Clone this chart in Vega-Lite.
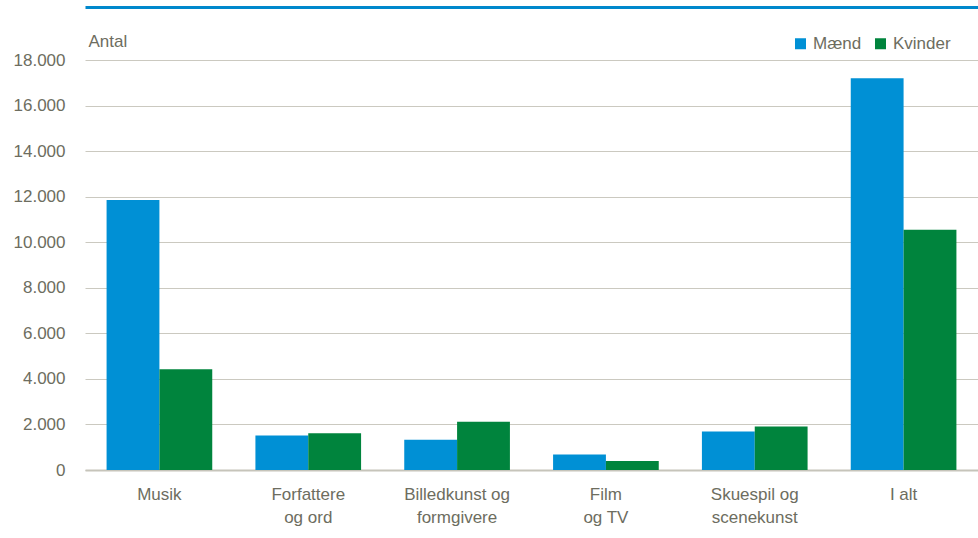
{
  "$schema": "https://vega.github.io/schema/vega-lite/v6.json",
  "width": 893,
  "height": 410,
  "autosize": {"type": "none"},
  "padding": {"left": 85, "top": 60, "right": 0, "bottom": 68},
  "background": "white",
  "data": {
    "values": [
      {"kategori": "Musik", "køn": "Mænd", "antal": 11850},
      {"kategori": "Musik", "køn": "Kvinder", "antal": 4420},
      {"kategori": "Forfattere og ord", "køn": "Mænd", "antal": 1520},
      {"kategori": "Forfattere og ord", "køn": "Kvinder", "antal": 1610},
      {"kategori": "Billedkunst og formgivere", "køn": "Mænd", "antal": 1330},
      {"kategori": "Billedkunst og formgivere", "køn": "Kvinder", "antal": 2120},
      {"kategori": "Film og TV", "køn": "Mænd", "antal": 680},
      {"kategori": "Film og TV", "køn": "Kvinder", "antal": 400},
      {"kategori": "Skuespil og scenekunst", "køn": "Mænd", "antal": 1690},
      {"kategori": "Skuespil og scenekunst", "køn": "Kvinder", "antal": 1910},
      {"kategori": "I alt", "køn": "Mænd", "antal": 17200},
      {"kategori": "I alt", "køn": "Kvinder", "antal": 10550}
    ]
  },
  "encoding": {
    "y": {
      "field": "antal",
      "type": "quantitative",
      "scale": {"domain": [0, 18000], "nice": false},
      "axis": {
        "values": [0, 2000, 4000, 6000, 8000, 10000, 12000, 14000, 16000, 18000],
        "labelExpr": "replace(format(datum.value, ','), ',', '.')",
        "domain": false,
        "ticks": false,
        "grid": true,
        "gridColor": "#cbc9c0",
        "gridWidth": 1,
        "labelFont": "Liberation Sans",
        "labelFontSize": 17,
        "labelColor": "#6d6d60",
        "labelPadding": 20,
        "title": "Antal",
        "titleAngle": 0,
        "titleAlign": "left",
        "titleBaseline": "middle",
        "titleX": 3,
        "titleY": -19,
        "titleFont": "Liberation Sans",
        "titleFontSize": 17,
        "titleFontWeight": "normal",
        "titleColor": "#6d6d60"
      }
    }
  },
  "layer": [
    {
      "mark": {"type": "bar"},
      "encoding": {
        "x": {
          "field": "kategori",
          "type": "nominal",
          "sort": null,
          "scale": {"paddingInner": 0.29, "paddingOuter": 0.145},
          "axis": {
            "orient": "bottom",
            "title": null,
            "labelAngle": 0,
            "ticks": false,
            "domain": true,
            "domainColor": "#c6c4ba",
            "domainWidth": 2,
            "labelFont": "Liberation Sans",
            "labelFontSize": 17,
            "labelColor": "#6d6d60",
            "labelPadding": 16,
            "labelBaseline": "top",
            "labelLineHeight": 23,
            "labelExpr": "datum.label == 'Forfattere og ord' ? ['Forfattere', 'og ord'] : datum.label == 'Billedkunst og formgivere' ? ['Billedkunst og', 'formgivere'] : datum.label == 'Film og TV' ? ['Film', 'og TV'] : datum.label == 'Skuespil og scenekunst' ? ['Skuespil og', 'scenekunst'] : datum.label"
          }
        },
        "xOffset": {"field": "køn", "type": "nominal", "sort": ["Mænd", "Kvinder"], "scale": {"paddingInner": 0, "paddingOuter": 0}},
        "color": {
          "field": "køn",
          "type": "nominal",
          "sort": ["Mænd", "Kvinder"],
          "scale": {"domain": ["Mænd", "Kvinder"], "range": ["#0090d5", "#00843d"]},
          "legend": {
            "title": null,
            "orient": "none",
            "direction": "horizontal",
            "legendX": 707,
            "legendY": -25,
            "padding": 0,
            "symbolType": "square",
            "symbolSize": 121,
            "symbolStrokeWidth": 0,
            "labelFont": "Liberation Sans",
            "labelFontSize": 17,
            "labelColor": "#6d6d60",
            "labelOffset": 4,
            "columnPadding": 10
          }
        }
      }
    },
    {
      "mark": {"type": "bar", "opacity": 0},
      "encoding": {
        "x": {
          "field": "kategori",
          "type": "nominal",
          "sort": null,
          "axis": {
            "orient": "top",
            "title": null,
            "labels": false,
            "ticks": false,
            "grid": false,
            "domain": true,
            "domainColor": "#0088cc",
            "domainWidth": 3,
            "offset": 53
          }
        }
      }
    }
  ],
  "resolve": {"axis": {"x": "independent"}},
  "config": {"view": {"stroke": null}}
}
